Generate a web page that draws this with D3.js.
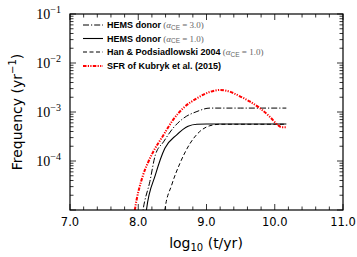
<!DOCTYPE html>
<html><head><meta charset="utf-8">
<script src="https://cdn.jsdelivr.net/npm/d3@7"></script>
<style>body{margin:0;background:#fff}svg{display:block}</style>
</head><body>
<svg id="c" width="357" height="257"></svg>
<script>
// data: log10(t/yr) and log10(frequency)
const hems3 = [[8.03,-5.4],[8.07,-5.0],[8.17,-4.42],[8.25,-3.88],[8.37,-3.61],[8.51,-3.33],[8.66,-3.13],[8.86,-2.99],[9.05,-2.92],[9.5,-2.92],[10.17,-2.92]];
const hems1 = [[8.09,-5.4],[8.12,-5.0],[8.25,-4.29],[8.39,-3.74],[8.56,-3.47],[8.73,-3.29],[8.86,-3.25],[9.0,-3.245],[10.17,-3.245]];
const han04 = [[8.36,-5.4],[8.39,-5.0],[8.49,-4.49],[8.61,-4.05],[8.76,-3.64],[8.90,-3.40],[9.05,-3.28],[9.20,-3.25],[10.17,-3.25]];
const sfr = [[7.91,-5.4],[7.95,-5.0],[8.07,-4.29],[8.15,-4.01],[8.22,-3.81],[8.37,-3.47],[8.51,-3.16],[8.66,-2.92],[8.86,-2.72],[9.05,-2.59],[9.20,-2.55],[9.35,-2.59],[9.49,-2.68],[9.64,-2.79],[9.78,-2.92],[9.93,-3.10],[10.05,-3.27],[10.10,-3.31],[10.17,-3.31]];
const xTicks = [7,8,9,10,11];
const xTickLabels = ["7.0","8.0","9.0","10.0","11.0"];
const yTickExp = [-1,-2,-3,-4];
const legendNames = ["HEMS donor","HEMS donor","Han & Podsiadlowski 2004","SFR of Kubryk et al. (2015)"];
const legendAlpha = ["3.0","1.0","1.0",null];

const svg = d3.select("#c");
const L=70,R=343,T=14,B=210;
const x = d3.scaleLinear().domain([7,11]).range([L,R]);
const y = d3.scaleLog().domain([1e-5,1e-1]).range([B,T]);

svg.append("defs").append("clipPath").attr("id","clip").append("rect")
  .attr("x",L).attr("y",T).attr("width",R-L).attr("height",B-T);

const line = d3.line().x(d=>x(d[0])).y(d=>y(Math.pow(10,d[1]))).curve(d3.curveMonotoneX);
const styles = [
  {data:hems3, color:"#000", w:1, dash:"6,2,1.2,2"},
  {data:hems1, color:"#000", w:1.1, dash:null},
  {data:han04, color:"#000", w:1, dash:"4,2.5"},
  {data:sfr, color:"#f00", w:2, dash:"3.5,1.3,1.2,1.3,1.2,1.3"}
];
const g = svg.append("g").attr("clip-path","url(#clip)");
styles.forEach(s=>{
  g.append("path").attr("d",line(s.data)).attr("fill","none")
   .attr("stroke",s.color).attr("stroke-width",s.w)
   .attr("stroke-dasharray",s.dash);
});

// frame
svg.append("rect").attr("x",L).attr("y",T).attr("width",R-L).attr("height",B-T)
  .attr("fill","none").attr("stroke","#000").attr("stroke-width",1.2);

// ticks
const tk = svg.append("g").attr("stroke","#000").attr("stroke-width",0.8);
const xMinor = d3.range(7,11.001,0.2);
xMinor.forEach(v=>{
  const major = Math.abs(v-Math.round(v))<1e-6;
  const len = major?6:3.5;
  tk.append("line").attr("x1",x(v)).attr("x2",x(v)).attr("y1",B).attr("y2",B-len);
  tk.append("line").attr("x1",x(v)).attr("x2",x(v)).attr("y1",T).attr("y2",T+len);
});
for(let e=-5;e<=-1;e++){
  for(let m=1;m<=9;m++){
    const v=m*Math.pow(10,e);
    if(v>0.1+1e-12) continue;
    const len = m===1?6:3.5;
    tk.append("line").attr("x1",L).attr("x2",L+len).attr("y1",y(v)).attr("y2",y(v));
    tk.append("line").attr("x1",R).attr("x2",R-len).attr("y1",y(v)).attr("y2",y(v));
  }
}

// x tick labels
svg.append("g").selectAll("text").data(xTicks).join("text")
  .attr("x",d=>x(d)).attr("y",B+16).attr("text-anchor","middle")
  .attr("font-family","DejaVu Sans, sans-serif").attr("font-size",11.5)
  .text((d,i)=>xTickLabels[i]);

// y tick labels
const yl = svg.append("g").selectAll("text").data(yTickExp).join("text")
  .attr("x",L-9).attr("y",d=>y(Math.pow(10,d))+5).attr("text-anchor","end")
  .attr("font-family","Liberation Serif, serif").attr("font-size",14);
yl.append("tspan").text("10");
yl.append("tspan").attr("dy",-6).attr("font-size",10).text(d=>"\u2212"+(-d));

// axis labels
const xl = svg.append("text").attr("x",206).attr("y",248).attr("text-anchor","middle")
  .attr("font-family","DejaVu Sans, sans-serif").attr("font-size",14);
xl.append("tspan").text("log");
xl.append("tspan").attr("dy",3).attr("font-size",10).text("10");
xl.append("tspan").attr("dy",-3).text(" (t/yr)");

const ylab = svg.append("text").attr("transform","translate(22,"+((T+B)/2)+") rotate(-90)")
  .attr("text-anchor","middle").attr("font-family","DejaVu Sans, sans-serif").attr("font-size",14);
ylab.append("tspan").text("Frequency (yr");
ylab.append("tspan").attr("dy",-6).attr("font-size",10).text("\u22121");
ylab.append("tspan").attr("dy",6).text(")");

// legend
const lg = svg.append("g");
const rowY = [25,38.5,52,66];
styles.forEach((s,i)=>{
  lg.append("line").attr("x1",83).attr("x2",103).attr("y1",rowY[i]).attr("y2",rowY[i])
    .attr("stroke",s.color).attr("stroke-width",s.w)
    .attr("stroke-dasharray",s.dash);
  const t = lg.append("text").attr("x",107).attr("y",rowY[i]+3.3)
    .attr("font-family","Liberation Sans, Arial, sans-serif").attr("font-size",9);
  t.append("tspan").attr("font-weight","bold").text(legendNames[i]);
  if(legendAlpha[i]){
    t.append("tspan").attr("fill","#666").attr("font-family","Liberation Serif, serif").text(" (");
    t.append("tspan").attr("fill","#666").attr("font-family","Liberation Serif, serif").attr("font-style","italic").text("\u03b1");
    t.append("tspan").attr("fill","#666").attr("font-size",6.5).attr("dy",1.5).text("CE");
    t.append("tspan").attr("fill","#666").attr("font-family","Liberation Serif, serif").attr("dy",-1.5).text(" = "+legendAlpha[i]+")");
  }
});
</script>
</body></html>
